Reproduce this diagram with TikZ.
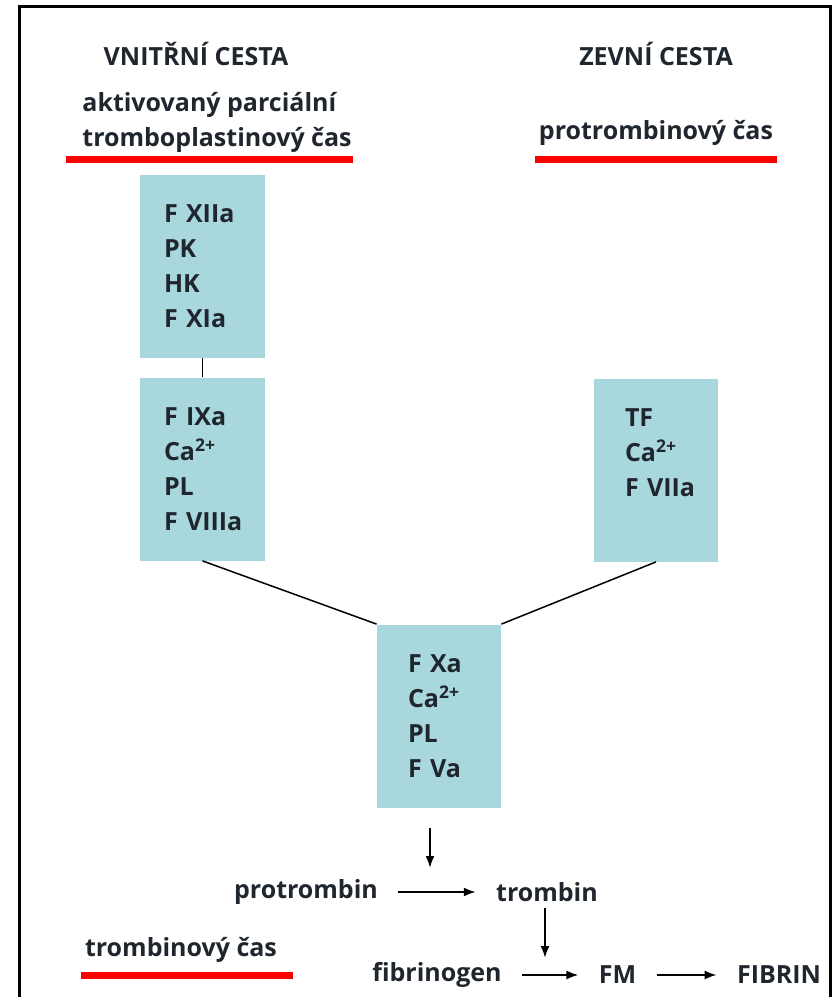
\documentclass[tikz,border=0pt]{standalone}
\usepackage{fontspec}
\setmainfont{Open Sans}
\usepackage{xcolor}
\usepackage{tikz}
\usetikzlibrary{arrows.meta,positioning,calc}

\definecolor{boxfill}{RGB}{168,215,221}
\definecolor{ink}{RGB}{32,38,46}
\definecolor{testred}{RGB}{255,0,0}

\tikzset{
  factor/.style={fill=boxfill,minimum width=62pt,minimum height=91.5pt,
    text width=38.5pt,inner xsep=12pt,align=left,
    font=\bfseries\fontsize{12.5}{17.5}\selectfont},
  head/.style={font=\bfseries\fontsize{12.5}{17.5}\selectfont,inner sep=0pt},
  test/.style={font=\bfseries\fontsize{12.5}{17.5}\selectfont,inner sep=0pt},
  flow/.style={font=\bfseries\fontsize{12.5}{17.5}\selectfont,inner xsep=10pt,inner ysep=3pt},
  link/.style={line width=0.75pt},
  underline/.style={testred,line width=3.5pt}
}

\begin{document}
\begin{tikzpicture}[x=0.5pt,y=-0.5pt,>={Latex[length=6pt,width=4.5pt]},
  every node/.style={text=ink}]
  \useasboundingbox (0,0) rectangle (834,997);
  \draw[line width=1.5pt] (19,997) -- (19,6) -- (830,6) -- (830,997);

  % headings and tests
  \node[head] (intr) at (196,54) {VNITŘNÍ CESTA};
  \node[head] (extr) at (656,54) {ZEVNÍ CESTA};
  \node[test,anchor=west,align=left] (aptt) at (82,122) {aktivovaný parciální\\tromboplastinový čas};
  \node[test] (pt) at (656,133) {protrombinový čas};
  \node[test] (tt) at (181,950) {trombinový čas};
  \draw[underline] (66,159) -- (353,159);
  \draw[underline] (535,159) -- (777,159);
  \draw[underline] (81,975) -- (293,975);

  % complexes
  \node[factor] (contact) at (202.5,266.5) {\mbox{F~XIIa}\\PK\\HK\\\mbox{F~XIa}};
  \node[factor] (tenase) at (202.5,469) {\mbox{F~IXa}\\Ca\textsuperscript{2+}\\PL\\\mbox{F~VIIIa}};
  \node[factor,inner xsep=15pt,text width=31pt] (tissue) at (656,470) {TF\\Ca\textsuperscript{2+}\\\mbox{F~VIIa}\\\mbox{}};
  \node[factor,inner xsep=15pt,text width=31pt] (prothrombinase) at (439,716) {\mbox{F~Xa}\\Ca\textsuperscript{2+}\\PL\\\mbox{F~Va}};

  \draw[link] (contact) -- (tenase);
  \draw[link] (tenase.south) -- (prothrombinase.north west);
  \draw[link] (tissue.south) -- (prothrombinase.north east);

  % common pathway
  \node[flow] (protrombin) at (306,892) {protrombin};
  \node[flow] (trombin) at (547,892) {trombin};
  \node[flow] (fibrinogen) at (437,975) {fibrinogen};
  \node[flow] (fm) at (617.5,975) {FM};
  \node[flow] (fibrin) at (779,975) {FIBRIN};
  \coordinate (xa) at (430,868);
  \coordinate (ia) at (545,958);

  \draw[->,line width=1pt] ([xshift=-4.5pt,yshift=-10pt]prothrombinase.south) -- (xa);
  \draw[->,line width=1pt] (protrombin) -- (trombin);
  \draw[->,line width=1pt] (trombin.south -| ia) -- (ia);
  \draw[->,line width=1pt] (fibrinogen) -- (fm);
  \draw[->,line width=1pt] (fm) -- (fibrin);
\end{tikzpicture}
\end{document}
